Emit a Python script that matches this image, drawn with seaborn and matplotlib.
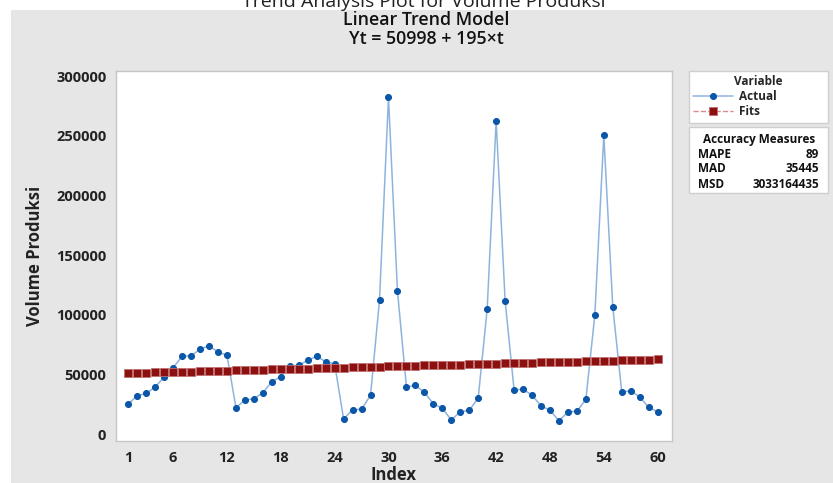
import matplotlib
matplotlib.use("Agg")
import matplotlib.pyplot as plt
from matplotlib.patches import Rectangle
import numpy as np
import pandas as pd
import seaborn as sns

# ---- data -------------------------------------------------------------------
index = list(range(1, 61))
actual = [25400, 32300, 34300, 39600, 48000, 55800, 65300, 65800, 71200, 74200,
          68900, 66100, 22300, 28700, 29800, 34800, 44000, 48200, 57200, 57800,
          62000, 65300, 60800, 58900, 12800, 20600, 20900, 32700, 112400, 282200,
          120000, 39600, 41000, 35200, 25600, 21800, 12000, 18900, 20100, 30400,
          104700, 262600, 111900, 37100, 37900, 32700, 23900, 20100, 11400, 18700,
          19300, 29300, 99900, 250600, 106600, 35400, 36500, 31200, 22600, 18900]
intercept, slope = 50998, 195
fits = [intercept + slope * t for t in index]
xticks = [1, 6, 12, 18, 24, 30, 36, 42, 48, 54, 60]
yticks = [0, 50000, 100000, 150000, 200000, 250000, 300000]
measures = ["MAPE", "MAD", "MSD"]
measure_vals = ["89", "35445", "3033164435"]

df = pd.DataFrame({"Index": index, "Actual": actual, "Fits": fits})

sns.set_theme(style="white")
plt.rcParams["font.family"] = ["Open Sans", "DejaVu Sans"]

W, H = 833, 483
fig = plt.figure(figsize=(W / 100, H / 100), dpi=100, facecolor="white")
GRAY = "#e6e6e6"
fig.patches.append(Rectangle((11 / W, 0), 1 - 11 / W, 1 - 10 / H,
                             transform=fig.transFigure, facecolor=GRAY,
                             edgecolor="none", zorder=-10))


def fx(px):
    return px / W


def fy(py):
    return 1 - py / H


ax = fig.add_axes([fx(116), fy(441), (672 - 116) / W, (441 - 71) / H])
ax.set_facecolor("white")

sns.lineplot(data=df, x="Index", y="Actual", ax=ax, color="#8fb3df", lw=1.1,
             marker="o", markersize=4.3, markerfacecolor="#0a56a8",
             markeredgecolor="#0a56a8", label="Actual", zorder=3)
sns.lineplot(data=df, x="Index", y="Fits", ax=ax, color="#d98c8c", lw=1.0,
             linestyle="--", marker="s", markersize=5.2, markerfacecolor="#8c1010",
             markeredgecolor="#c07070", markeredgewidth=0.6, label="Fits", zorder=4)

ax.set_xlim(-0.37, 61.6)
ax.set_ylim(-5600, 304200)
ax.set_xticks(xticks)
ax.set_yticks(yticks)
ax.tick_params(axis="both", direction="out", length=4, width=0.8, color="#b5b5b5",
               labelsize=10.5, labelcolor="#222222", pad=3)
for lab in ax.get_xticklabels() + ax.get_yticklabels():
    lab.set_fontweight("bold")
for s in ax.spines.values():
    s.set_color("#c6c6c6")
    s.set_linewidth(1.0)

ax.set_xlabel("Index", fontsize=12, fontweight="bold", color="#222222", labelpad=1)
ax.set_ylabel("Volume Produksi", fontsize=12, fontweight="bold", color="#222222",
              labelpad=9)

# titles (top line sits partly above the picture, as in the reference)
fig.text(fx(424), fy(7), "Trend Analysis Plot for Volume Produksi", ha="center",
         va="baseline", fontsize=14, color="#222222")
fig.text(fx(426), fy(20), "Linear Trend Model", ha="center", va="center",
         fontsize=12.8, fontweight="semibold", color="#111111")
fig.text(fx(426), fy(39), "Yt = 50998 + 195\u00d7t", ha="center", va="center",
         fontsize=12.8, fontweight="semibold", color="#111111")

# legend box
handles, labels = ax.get_legend_handles_labels()
ax.get_legend().remove()
leg = fig.legend(handles, labels, title="Variable", loc="upper left",
                 bbox_to_anchor=(fx(689), fy(122), (828 - 689) / W, (122 - 71) / H),
                 bbox_transform=fig.transFigure, mode="expand", fontsize=8.5,
                 title_fontsize=8.5, frameon=True, fancybox=False, borderpad=0.35,
                 labelspacing=0.18, handlelength=3.4, handletextpad=0.5,
                 borderaxespad=0, framealpha=1, facecolor="white")
leg.get_frame().set_edgecolor("#cfcfcf")
leg.get_frame().set_linewidth(1.0)
leg.get_title().set_fontweight("bold")
for t in leg.get_texts():
    t.set_fontweight("bold")

# accuracy measures box
fig.patches.append(Rectangle((fx(689), fy(193)), (828 - 689) / W, (193 - 127) / H,
                             transform=fig.transFigure, facecolor="white",
                             edgecolor="#cfcfcf", lw=1.0, zorder=1))
fig.text(fx(759), fy(139), "Accuracy Measures", ha="center", va="center",
         fontsize=8.5, fontweight="bold", color="#111111")
for i, (name, val) in enumerate(zip(measures, measure_vals)):
    y = fy(154 + 15 * i)
    fig.text(fx(698), y, name, ha="left", va="center", fontsize=8.5,
             fontweight="bold", color="#111111")
    fig.text(fx(819), y, val, ha="right", va="center", fontsize=8.5,
             fontweight="bold", color="#111111")

fig.savefig("out.png", dpi=100, facecolor=fig.get_facecolor())
